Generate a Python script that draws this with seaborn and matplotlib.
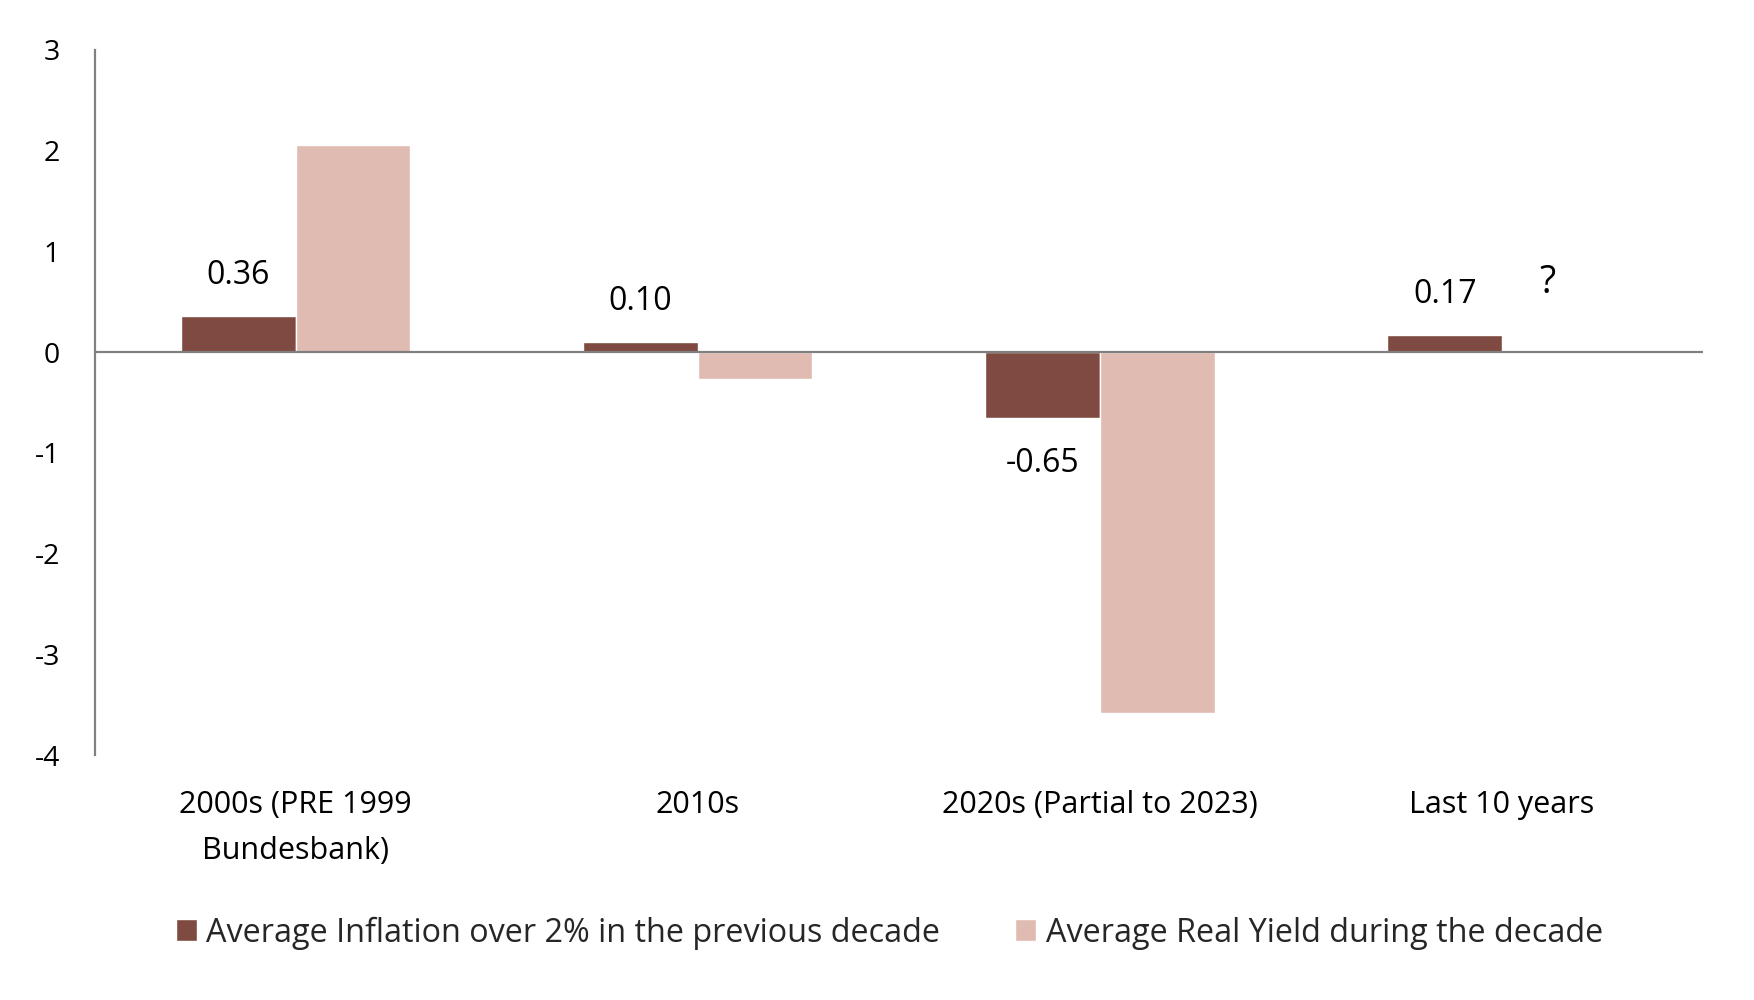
import matplotlib
matplotlib.use("Agg")
import matplotlib.pyplot as plt
import seaborn as sns
import pandas as pd
import numpy as np

categories = ["2000s (PRE 1999\nBundesbank)", "2010s", "2020s (Partial to 2023)", "Last 10 years"]
series_names = ["Average Inflation over 2% in the previous decade", "Average Real Yield during the decade"]
inflation = [0.36, 0.10, -0.65, 0.17]
real_yield = [2.06, -0.27, -3.58, np.nan]
inflation_labels = ["0.36", "0.10", "-0.65", "0.17"]
colors = ["#7F4A41", "#E0BBB2"]
yticks = [3, 2, 1, 0, -1, -2, -3, -4]

df = pd.DataFrame({
    "category": categories * 2,
    "series": [series_names[0]] * 4 + [series_names[1]] * 4,
    "value": inflation + real_yield,
})

sns.set_theme(style="white")
plt.rcParams["font.family"] = ["Open Sans", "DejaVu Sans"]

fig = plt.figure(figsize=(17.54, 10), dpi=100)
ax = fig.add_axes([0.054, 0.245, 0.917, 0.705])

sns.barplot(data=df, x="category", y="value", hue="series", order=categories,
            hue_order=series_names, palette=colors, width=0.57, saturation=1,
            errorbar=None, ax=ax, legend=True)

ax.set_ylim(-4, 3)
ax.set_yticks(yticks)
ax.set_yticklabels([str(t) for t in yticks])
ax.set_xlim(-0.5, 3.5)
ax.axhline(0, color="#808080", lw=1.6, zorder=3)
for s in ["top", "right", "bottom"]:
    ax.spines[s].set_visible(False)
ax.spines["left"].set_color("#808080")
ax.spines["left"].set_linewidth(1.6)
ax.set_xlabel("")
ax.set_ylabel("")
ax.tick_params(axis="y", length=0, pad=25, labelsize=20.5, labelcolor="black")
ax.tick_params(axis="x", length=0, pad=25, labelsize=22, labelcolor="black")
for lab in ax.get_xticklabels():
    lab.set_linespacing(1.7)

# labels on inflation bars
cont = ax.containers[0]
bars = list(cont)
for bar, txt in zip(bars, inflation_labels):
    h = bar.get_height()
    xc = bar.get_x() + bar.get_width() / 2
    off = 29 if h >= 0 else -33
    ax.annotate(txt, (xc, h), xytext=(0, off), textcoords="offset points",
                ha="center", va="center", fontsize=23, color="black")

# question mark for missing real yield (position of the second series bar)
for i, val in enumerate(real_yield):
    if np.isnan(val):
        b = bars[i]
        xc = b.get_x() + 1.5 * b.get_width()
        ax.annotate("?", (xc - 0.03, 0), xytext=(0, 50), textcoords="offset points",
                    ha="center", va="center", fontsize=27, color="black")

h, l = ax.get_legend_handles_labels()
ax.legend_.remove()
fig.legend(h, l, loc="center", bbox_to_anchor=(0.507, 0.067), ncol=2, frameon=False,
           fontsize=23.3, handlelength=0.65, handleheight=0.65, handletextpad=0.3,
           columnspacing=2.3)

fig.savefig("out.png", dpi=100, facecolor="white")
